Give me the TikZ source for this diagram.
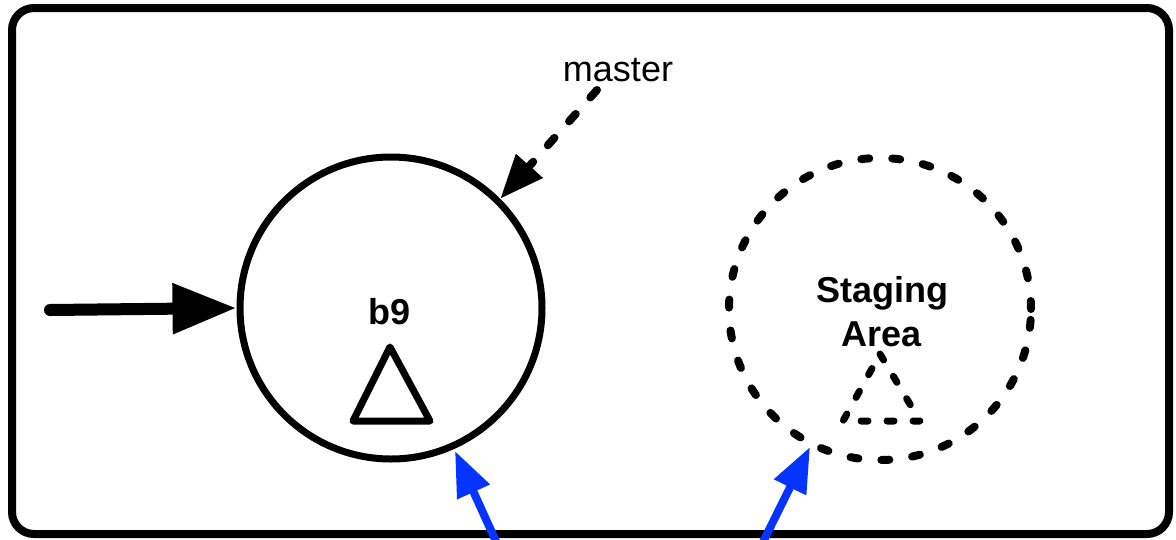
\documentclass[tikz,border=0pt]{standalone}
\usepackage{fontspec}
\setmainfont{Liberation Sans}
\usetikzlibrary{arrows.meta}
\begin{document}
\begin{tikzpicture}[x=1pt,y=-1pt,
  lbl/.style={font=\fontsize{36}{44}\selectfont, inner sep=0pt, align=center},
  boldlbl/.style={lbl, font=\fontsize{36}{44}\selectfont\bfseries},
  ring/.style={circle, draw=black, line width=7pt, minimum size=302pt, inner sep=0pt},
  dashring/.style={circle, draw=black, line width=8pt, minimum size=302pt, inner sep=0pt, line cap=round, dash pattern=on 8pt off 23pt},
  blueline/.style={draw={rgb,255:red,5;green,51;blue,255}, line width=8pt, -{Triangle[length=45pt,width=34pt]}}
]
\clip (0,0) rectangle (1176,539);
\useasboundingbox (0,0) rectangle (1176,539);
\fill[white] (0,0) rectangle (1176,539);
\draw[line width=8pt, rounded corners=22pt] (12,8) rectangle (1169,534);

\node[ring] (b9) at (391,308) {};
\node[boldlbl] (b9t) at (390,312) {b9};
\draw[line width=7pt, line join=round] (390,347) -- (430,421) -- (353,421) -- cycle;

\node[dashring] (stage) at (880,309) {};
\node[boldlbl] (staget) at (882,312) {Staging\\Area};
\draw[line width=7pt, line cap=round, line join=round, dash pattern=on 7pt off 19pt] (880,354) -- (920,421) -- (843,421) -- cycle;

\coordinate (in) at (50,310);
\draw[line width=12pt, line cap=round, -{Triangle[length=64pt,width=48pt,line cap=butt]}] (in) -- (b9.west);

\node[lbl, anchor=base] (master) at (618,81) {master};
\draw[line width=8pt, line cap=round, dash pattern=on 10pt off 22pt, -{Triangle[length=44pt,width=34pt,line cap=butt]}] (597,90) -- (b9.45);

\coordinate (s1) at (499,548);
\coordinate (s2) at (760,548);
\draw[blueline] (s1) -- (455,451);
\draw[blueline] (s2) -- (810,447);
\end{tikzpicture}
\end{document}
